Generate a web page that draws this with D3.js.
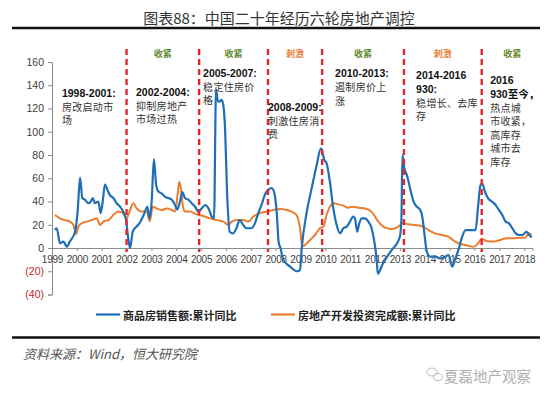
<!DOCTYPE html>
<html>
<head>
<meta charset="utf-8">
<script src="https://cdn.jsdelivr.net/npm/d3@7"></script>
<style>
  body { margin: 0; background: #fff; }
  svg { display: block; }
</style>
</head>
<body>
<svg id="chart" width="550" height="394"></svg>
<script>
// ---- data (% cumulative YoY) ----
var yearTicks = [1999, 2000, 2001, 2002, 2003, 2004, 2005, 2006, 2007, 2008, 2009,
                 2010, 2011, 2012, 2013, 2014, 2015, 2016, 2017, 2018];
var yTicks = [-40, -20, 0, 20, 40, 60, 80, 100, 120, 140, 160];

// 商品房销售额:累计同比
var salesData = [
  [1999.12, 15.5], [1999.19, 17], [1999.32, 4], [1999.46, 5.5], [1999.6, 1], [1999.7, 5],
  [1999.93, 14], [2000.03, 31], [2000.13, 60.5], [2000.22, 43], [2000.33, 41.5], [2000.46, 38.5],
  [2000.56, 40], [2000.64, 43], [2000.73, 38.5], [2000.86, 40], [2000.96, 30], [2001.04, 40],
  [2001.13, 54.5], [2001.23, 50], [2001.33, 45.5], [2001.47, 43], [2001.6, 38.5], [2001.74, 35.5],
  [2001.87, 31], [2001.98, 24], [2002.07, 8], [2002.14, 0], [2002.25, 14], [2002.38, 18],
  [2002.51, 21], [2002.68, 28], [2002.84, 35.5], [2002.92, 25.5], [2003.01, 40], [2003.1, 76.5],
  [2003.19, 54.5], [2003.28, 48.5], [2003.41, 47], [2003.55, 44], [2003.68, 43], [2003.82, 41.5],
  [2003.95, 37], [2004.04, 33], [2004.15, 40], [2004.24, 48], [2004.35, 43], [2004.49, 41.5],
  [2004.62, 38.5], [2004.76, 35.5], [2004.89, 31], [2005.02, 34], [2005.16, 37], [2005.3, 34],
  [2005.43, 27], [2005.52, 25.5], [2005.6, 136], [2005.68, 126], [2005.75, 126], [2005.82, 127.5],
  [2005.88, 124.5], [2005.95, 108.6], [2006.06, 40], [2006.15, 14], [2006.28, 12.5], [2006.42, 17],
  [2006.55, 24], [2006.69, 20], [2006.82, 17], [2007.02, 17], [2007.16, 21], [2007.3, 30],
  [2007.43, 37], [2007.56, 45.5], [2007.7, 50], [2007.84, 51.5], [2007.95, 47], [2008.04, 31],
  [2008.12, 5], [2008.2, -0.5], [2008.3, -10], [2008.58, -16], [2008.85, -20], [2008.98, -19],
  [2009.05, 0], [2009.25, 31], [2009.45, 51.5], [2009.65, 71.5], [2009.82, 85.7], [2009.96, 75.7],
  [2010.05, 72.9], [2010.18, 57], [2010.32, 34], [2010.45, 20], [2010.59, 12.6], [2010.72, 17],
  [2010.86, 18.4], [2010.99, 22.7], [2011.12, 27], [2011.19, 25.5], [2011.28, 14], [2011.36, 21],
  [2011.46, 25.5], [2011.59, 25.5], [2011.73, 22.7], [2011.86, 17], [2011.97, 5.5], [2012.06, -9],
  [2012.11, -22], [2012.3, -14], [2012.5, -7], [2012.7, -1], [2012.85, 3], [2013.0, 10],
  [2013.06, 25], [2013.1, 80], [2013.18, 68.5], [2013.28, 62.7], [2013.41, 51.2], [2013.55, 39.8],
  [2013.68, 35.5], [2013.82, 32.7], [2013.91, 25.5], [2013.99, 11.2], [2014.08, -3.2], [2014.22, -7.5],
  [2014.42, -7.5], [2014.62, -9], [2014.82, -7.5], [2014.96, -6], [2015.1, -16], [2015.23, -9],
  [2015.37, -0.5], [2015.5, 9.5], [2015.64, 15.3], [2015.84, 15.3], [2016.04, 15.3], [2016.15, 37],
  [2016.24, 54], [2016.31, 55.5], [2016.42, 48.4], [2016.55, 42.7], [2016.71, 39.8], [2016.85, 37],
  [2016.98, 32.7], [2017.12, 28.4], [2017.25, 22.7], [2017.39, 21.2], [2017.52, 17], [2017.66, 12.6],
  [2017.79, 11.2], [2017.93, 11.2], [2018.09, 14], [2018.2, 11.2], [2018.3, 9]
];

// 房地产开发投资完成额:累计同比
var investData = [
  [1999.12, 28.4], [1999.32, 25.5], [1999.52, 24], [1999.72, 22.7], [1999.86, 19.8], [1999.97, 12],
  [2000.06, 18.4], [2000.19, 21.2], [2000.4, 22.7], [2000.6, 24], [2000.8, 25.5], [2000.93, 19.8],
  [2001.07, 22.7], [2001.27, 24], [2001.47, 28.4], [2001.67, 31.3], [2001.87, 29.8], [2002.0, 25.5],
  [2002.14, 32.7], [2002.27, 38.5], [2002.41, 34], [2002.61, 31.3], [2002.81, 31.3], [2002.94, 23],
  [2003.05, 35.5], [2003.21, 34], [2003.41, 32.7], [2003.61, 34], [2003.82, 32.7], [2003.95, 31.3],
  [2004.06, 47], [2004.12, 57], [2004.19, 51], [2004.26, 37], [2004.35, 31.3], [2004.55, 31.3],
  [2004.82, 29], [2005.09, 27.5], [2005.36, 25.5], [2005.63, 24], [2005.9, 22.7], [2006.1, 19.8],
  [2006.23, 22.7], [2006.43, 24], [2006.7, 24], [2006.9, 22.7], [2007.1, 27], [2007.37, 30],
  [2007.64, 31.3], [2007.91, 32.7], [2008.18, 33.5], [2008.44, 32.7], [2008.64, 31.3], [2008.84, 28.4],
  [2008.98, 17], [2009.07, 1], [2009.18, 2.6], [2009.38, 6.9], [2009.58, 11.2], [2009.78, 17],
  [2009.92, 18.4], [2010.05, 28.4], [2010.18, 35.5], [2010.36, 38.5], [2010.52, 37.5], [2010.72, 36.5],
  [2010.92, 34.7], [2011.06, 35.5], [2011.33, 34.7], [2011.6, 34], [2011.86, 31.3], [2012.13, 22.7],
  [2012.4, 17.5], [2012.67, 16.3], [2012.94, 18.4], [2013.1, 21.2], [2013.34, 20.4], [2013.6, 19.8],
  [2013.87, 19], [2014.14, 15.5], [2014.41, 12.6], [2014.68, 11.2], [2014.95, 9.8], [2015.22, 5.5],
  [2015.49, 3.2], [2015.75, 2], [2015.96, 1], [2016.13, 3.7], [2016.29, 8], [2016.49, 6],
  [2016.76, 5.5], [2017.03, 6.9], [2017.3, 8.3], [2017.56, 8.3], [2017.83, 8.9], [2018.03, 8.9],
  [2018.19, 12.6], [2018.3, 11.2]
];

// policy turning points and phase names
var policyBreaks = [2002.0, 2004.92, 2007.69, 2009.87, 2013.16, 2016.29, 2018.75];
var phaseNames = ["收紧", "收紧", "刺激", "收紧", "刺激", "收紧"];

var notes = [
  { year: 1999.4,  val: 133.6, lines: ["1998-2001:", "房改启动市", "场"], bold: 1 },
  { year: 2002.38, val: 134.5, lines: ["2002-2004:", "抑制房地产", "市场过热"], bold: 1 },
  { year: 2005.08, val: 150.8, lines: ["2005-2007:", "稳定住房价", "格"], bold: 1 },
  { year: 2007.69, val: 121.5, lines: ["2008-2009:", "刺激住房消", "费"], bold: 1 },
  { year: 2010.39, val: 150.3, lines: ["2010-2013:", "遏制房价上", "涨"], bold: 1 },
  { year: 2013.65, val: 148.8, lines: ["2014-2016", "930:", "稳增长、去库", "存"], bold: 2 },
  { year: 2016.63, val: 144.5, lines: ["2016", "930至今，", "热点城", "市收紧，", "高库存", "城市去", "库存"], bold: 2 }
];

// ---- set up ----
var svg = d3.select("#chart");
var latin = "'Liberation Sans', Arial, sans-serif";
var cjk = "'Noto Sans CJK SC', sans-serif";
var blue = "#1f6fb8", orange = "#ec7d2e", red = "#e3262b";

var x = d3.scaleLinear().domain([1999, 2018.33]).range([52, 532.4]);
var y = d3.scaleLinear().domain([-40, 160]).range([294.5, 62]);

// title + rules
svg.append("text").attr("x", 279).attr("y", 17)
  .attr("text-anchor", "middle").attr("dominant-baseline", "central")
  .style("font-family", cjk).style("font-size", "15px").attr("fill", "#333")
  .text("图表88：中国二十年经历六轮房地产调控");
svg.append("line").attr("x1", 12).attr("x2", 540).attr("y1", 28).attr("y2", 28)
  .attr("stroke", "#111").attr("stroke-width", 2.5);
svg.append("line").attr("x1", 12).attr("x2", 540).attr("y1", 337.5).attr("y2", 337.5)
  .attr("stroke", "#111").attr("stroke-width", 2.5);

// y axis
var yAxis = d3.axisLeft(y).tickValues(yTicks).tickSize(4).tickPadding(4)
  .tickFormat(function(d) { return d < 0 ? "(" + (-d) + ")" : d; });
var gy = svg.append("g").attr("transform", "translate(" + x(1999) + ",0)").call(yAxis);
gy.select(".domain").attr("stroke", "#8c8c8c");
gy.selectAll(".tick line").attr("stroke", "#8c8c8c");
gy.selectAll(".tick text")
  .style("font-family", latin).style("font-size", "10.5px")
  .attr("fill", function(d) { return d < 0 ? "#c0272d" : "#404040"; });

// x axis at zero
var xAxis = d3.axisBottom(x).tickValues(yearTicks).tickSize(3).tickPadding(5)
  .tickFormat(d3.format("d"));
var gx = svg.append("g").attr("transform", "translate(0," + y(0) + ")").call(xAxis);
gx.select(".domain").attr("stroke", "#8c8c8c");
gx.selectAll(".tick line").attr("stroke", "#8c8c8c");
gx.selectAll(".tick text")
  .style("font-family", latin).style("font-size", "10px").style("letter-spacing", "-0.2px")
  .attr("fill", "#404040");

// series
var line = d3.line()
  .x(function(d) { return x(d[0]); })
  .y(function(d) { return y(d[1]); })
  .curve(d3.curveMonotoneX);

svg.append("path").datum(investData).attr("d", line)
  .attr("fill", "none").attr("stroke", orange).attr("stroke-width", 2);
svg.append("path").datum(salesData).attr("d", line)
  .attr("fill", "none").attr("stroke", blue).attr("stroke-width", 2.2);

// policy breaks
svg.selectAll(".brk").data(policyBreaks.slice(0, 6)).enter().append("line")
  .attr("x1", function(d) { return x(d); }).attr("x2", function(d) { return x(d); })
  .attr("y1", 49).attr("y2", y(0) + 4)
  .attr("stroke", red).attr("stroke-width", 2.4).attr("stroke-dasharray", "6,4");

svg.selectAll(".phase").data(phaseNames).enter().append("text")
  .attr("x", function(d, i) { return (x(policyBreaks[i]) + x(policyBreaks[i + 1])) / 2; })
  .attr("y", 53).attr("text-anchor", "middle").attr("dominant-baseline", "central")
  .style("font-family", cjk).style("font-size", "9px").style("font-weight", "bold")
  .attr("fill", function(d) { return d === "刺激" ? "#e8803a" : "#5e8a2c"; })
  .text(function(d) { return d; });

// annotations
notes.forEach(function(n) {
  var g = svg.append("g");
  n.lines.forEach(function(t, i) {
    var isBold = i < n.bold;
    g.append("text")
      .attr("x", x(n.year)).attr("y", y(n.val) + i * 13.5)
      .attr("dominant-baseline", "central")
      .style("font-family", isBold ? latin + ", " + cjk : cjk)
      .style("font-size", isBold ? "10.5px" : "10px")
      .style("font-weight", isBold ? "bold" : "normal")
      .style("letter-spacing", isBold ? "0" : "0.3px")
      .attr("fill", isBold ? "#111" : "#333")
      .text(t);
  });
});

// legend
var legend = [
  { name: "商品房销售额:累计同比", color: blue, x0: 96 },
  { name: "房地产开发投资完成额:累计同比", color: orange, x0: 271 }
];
legend.forEach(function(l) {
  svg.append("line").attr("x1", l.x0).attr("x2", l.x0 + 24)
    .attr("y1", 314.5).attr("y2", 314.5).attr("stroke", l.color).attr("stroke-width", 2.2);
  svg.append("text").attr("x", l.x0 + 27).attr("y", 314.5)
    .attr("dominant-baseline", "central")
    .style("font-family", cjk).style("font-size", "11px").style("font-weight", "bold")
    .attr("fill", "#222").text(l.name);
});

// source + watermark
svg.append("text").attr("x", 23).attr("y", 353).attr("dominant-baseline", "central")
  .style("font-family", cjk).style("font-size", "13px").style("font-style", "italic")
  .attr("fill", "#555").text("资料来源：Wind，恒大研究院");

var wm = svg.append("g").attr("fill", "none").attr("stroke", "#b5b5b5").attr("stroke-width", 0.9);
wm.append("ellipse").attr("cx", 432).attr("cy", 372).attr("rx", 5).attr("ry", 4);
wm.append("ellipse").attr("cx", 438).attr("cy", 377).attr("rx", 4.5).attr("ry", 3.5);
svg.append("text").attr("x", 444).attr("y", 375).attr("dominant-baseline", "central")
  .style("font-family", cjk).style("font-size", "14.5px").attr("fill", "#b0b0b0")
  .text("夏磊地产观察");
</script>
</body>
</html>
